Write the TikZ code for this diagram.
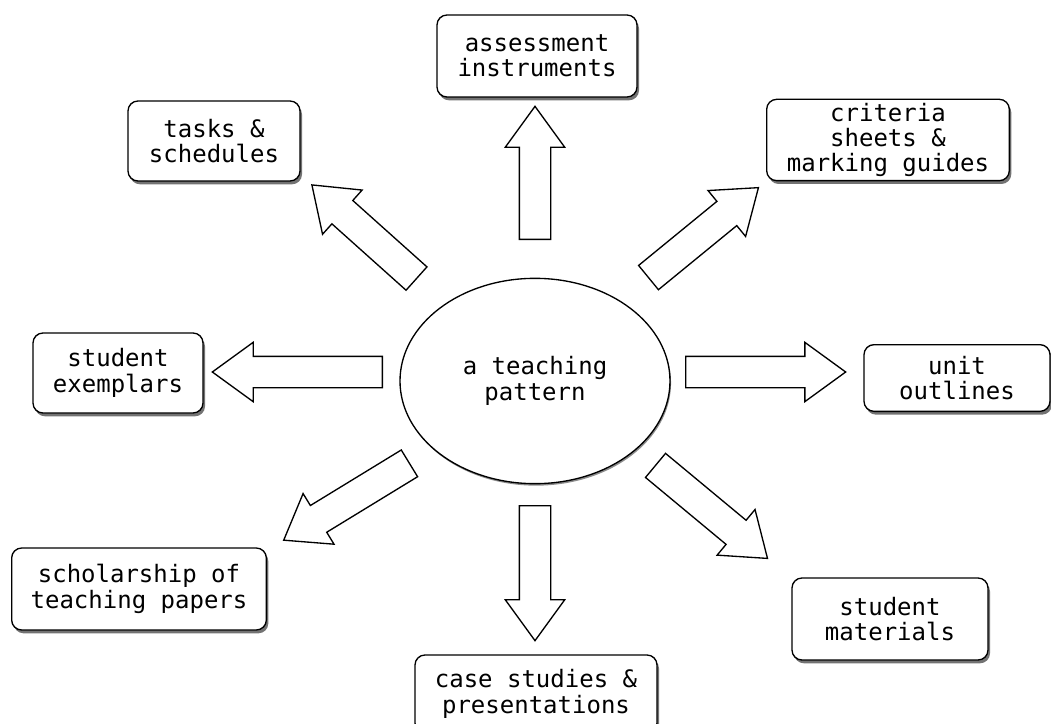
\documentclass[tikz,border=0pt]{standalone}
\usepackage{fontspec}
\setmonofont{DejaVu Sans Mono}
\usetikzlibrary{shapes.arrows,shapes.geometric,shadows,calc}

\newcommand{\fatarrow}[3]{%
    \path let \p1=(#2), \p2=(#3), \n1={atan2(\y2-\y1,\x2-\x1)}, \n2={veclen(\x2-\x1,\y2-\y1)} in
        node[fat arrow, rotate=\n1, minimum height=\n2, anchor=tail] (#1) at (#2) {};}

\begin{document}
\begin{tikzpicture}[x=0.75pt, y=-0.75pt,
    box/.style={draw, line width=1pt, fill=white, rounded corners=7.5pt, align=center,
        font=\ttfamily\fontsize{18}{19}\selectfont, inner sep=0pt,
        drop shadow={shadow xshift=1.5pt, shadow yshift=-2.5pt, fill=black!55, opacity=1}},
    hub/.style={draw, line width=1pt, fill=white, ellipse, align=center, inner sep=0pt,
        minimum width=202.5pt, minimum height=154pt,
        font=\ttfamily\fontsize{18}{19}\selectfont,
        drop shadow={shadow xshift=0.8pt, shadow yshift=-1.5pt, fill=black!45, opacity=1}},
    fat arrow/.style={single arrow, draw, line width=1pt, fill=white, inner xsep=0pt, inner ysep=11.25pt,
        single arrow head extend=10.5pt, single arrow tip angle=72}]
    \useasboundingbox (0,0) rectangle (1051,724);

    \node[hub] (hub) at (535,381) {a teaching\\pattern};

    \node[box, minimum width=150pt, minimum height=61.5pt] (assess) at (537,56) {assessment\\instruments};
    \node[box, minimum width=129pt, minimum height=60pt] (tasks) at (214,141) {tasks \&\\schedules};
    \node[box, minimum width=182pt, minimum height=61pt] (criteria) at (888,140) {criteria\\sheets \&\\marking guides};
    \node[box, minimum width=127.5pt, minimum height=60pt] (exemplars) at (118,373) {student\\exemplars};
    \node[box, minimum width=139.5pt, minimum height=50pt] (unit) at (957,378) {unit\\outlines};
    \node[box, minimum width=191pt, minimum height=61.5pt] (scholar) at (139,589) {scholarship of\\teaching papers};
    \node[box, minimum width=181.5pt, minimum height=58.5pt] (cases) at (536,694) {case studies \&\\presentations};
    \node[box, minimum width=147pt, minimum height=61.5pt] (materials) at (890,619) {student\\materials};

    % arrow ends
    \coordinate (t1) at (535,240);  \coordinate (h1) at (535,107);
    \coordinate (t2) at (417,279);  \coordinate (h2) at (312,185);
    \coordinate (t3) at (648,278);  \coordinate (h3) at (758,188);
    \coordinate (t4) at (383,372);  \coordinate (h4) at (213,372);
    \coordinate (t5) at (685,372);  \coordinate (h5) at (845,372);
    \coordinate (t6) at (410,463);  \coordinate (h6) at (284,540);
    \coordinate (t7) at (535,505);  \coordinate (h7) at (535,640);
    \coordinate (t8) at (655,465);  \coordinate (h8) at (767,558);

    \fatarrow{a1}{t1}{h1}
    \fatarrow{a2}{t2}{h2}
    \fatarrow{a3}{t3}{h3}
    \fatarrow{a4}{t4}{h4}
    \fatarrow{a5}{t5}{h5}
    \fatarrow{a6}{t6}{h6}
    \fatarrow{a7}{t7}{h7}
    \fatarrow{a8}{t8}{h8}
\end{tikzpicture}
\end{document}
